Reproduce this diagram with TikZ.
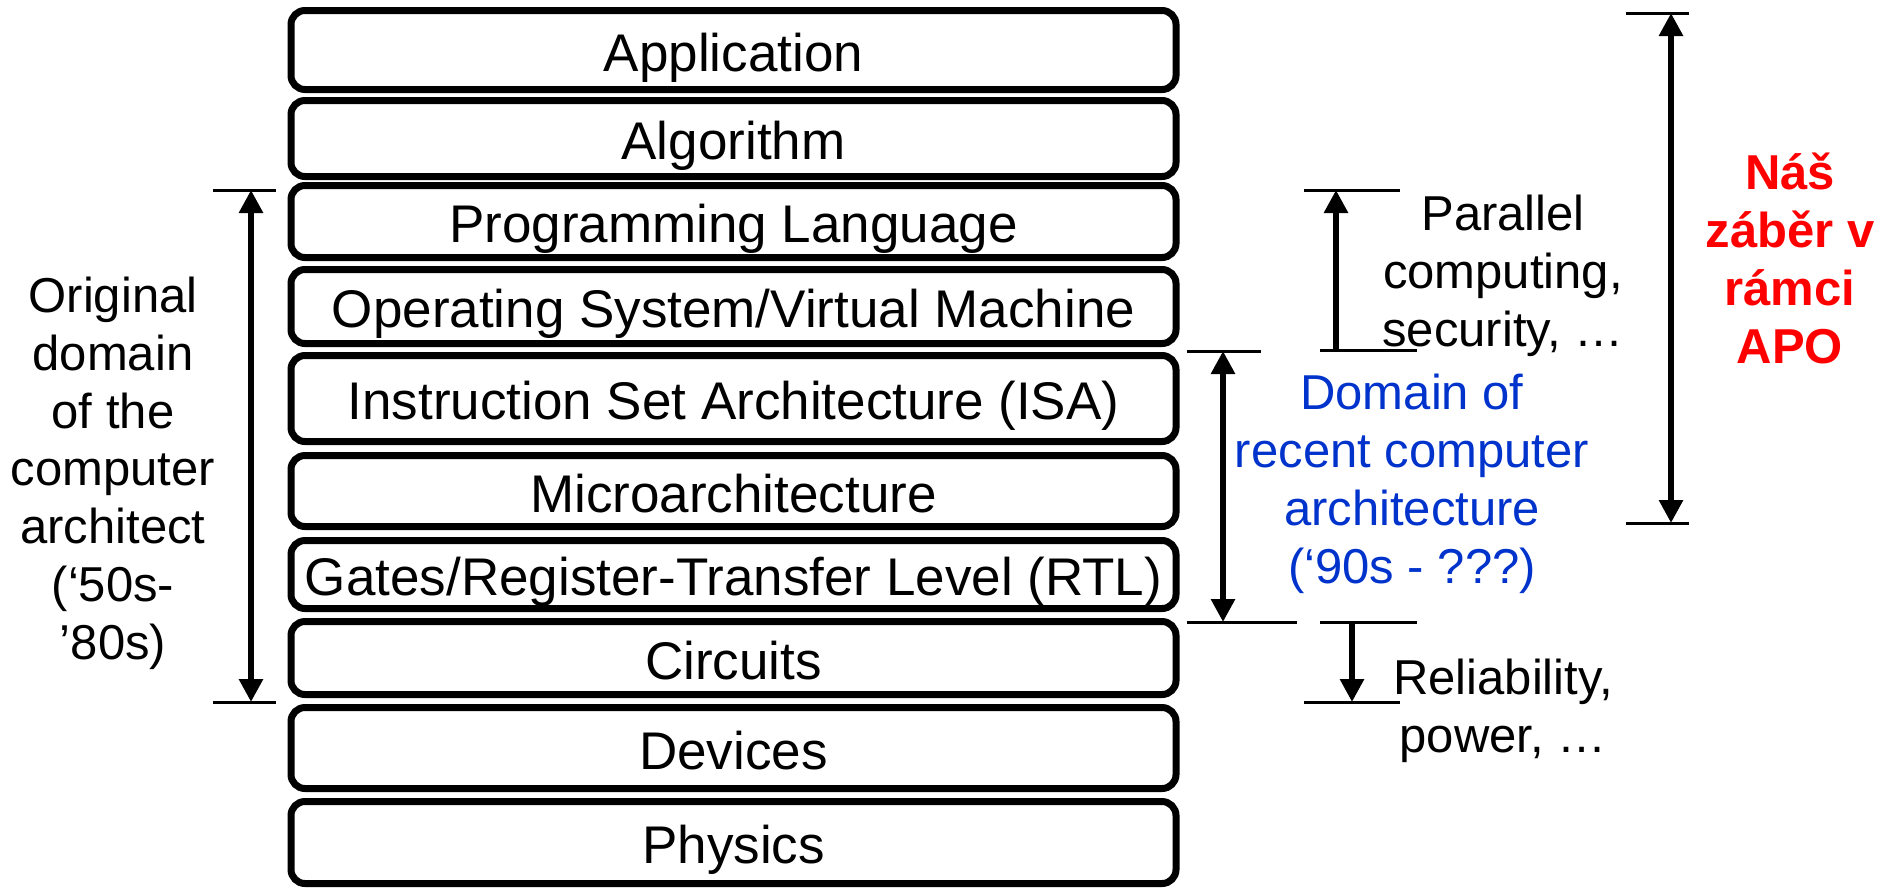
\documentclass[tikz,border=0pt]{standalone}
\usepackage{fontspec}
\setmainfont{Liberation Sans}
\usetikzlibrary{arrows.meta,calc}
\definecolor{domainblue}{RGB}{0,51,204}
\definecolor{scopered}{RGB}{255,0,0}
\begin{document}
\begin{tikzpicture}[x=0.5pt,y=-0.5pt,
  layer/.style={draw, line width=3.5pt, rounded corners=7pt,
    minimum width=442.5pt, inner sep=0pt,
    font=\fontsize{26.5}{31}\selectfont, text height=21pt, text depth=0pt},
  side/.style={align=center, anchor=base, inner sep=0pt,
    font=\fontsize{24.5}{28.85}\selectfont},
  tickline/.style={line width=1.5pt},
  headtip/.tip={Triangle[length=11.5pt,width=11.5pt]},
  span/.style={line width=3.4pt, headtip-headtip},
  upspan/.style={line width=3.4pt, -headtip},
]
\useasboundingbox (0,0) rectangle (1888,891);

% the stack of abstraction layers
\node[layer, minimum height=39.5pt] (app)   at (733.5,50)    {Application};
\node[layer, minimum height=38pt]   (alg)   at (733.5,138.5) {Algorithm};
\node[layer, minimum height=36pt]   (plang) at (733.5,221.5) {Programming Language};
\node[layer, minimum height=37pt]   (os)    at (733.5,306.5) {Operating System/Virtual Machine};
\node[layer, minimum height=43pt]   (isa)   at (733.5,398.5) {Instruction Set Architecture (ISA)};
\node[layer, minimum height=35.5pt] (uarch) at (733.5,491)   {Microarchitecture};
\node[layer, minimum height=34pt]   (rtl)   at (733.5,574.5) {Gates/Register-Transfer Level (RTL)};
\node[layer, minimum height=36.5pt] (circ)  at (733.5,658)   {Circuits};
\node[layer, minimum height=40.5pt] (dev)   at (733.5,748)   {Devices};
\node[layer, minimum height=41pt]   (phys)  at (733.5,842.5) {Physics};

% side labels (placed by the baseline of their last line)
\node[side] (orig) at (113,659)
  {Original\\domain\\of the\\computer\\architect\\(‘50s-\\’80s)};
\node[side] (par) at (1503,346) {Parallel\\computing,\\security, …};
\node[side, text=domainblue] (dom) at (1412,583)
  {Domain of\\recent computer\\architecture\\(‘90s - ???)};
\node[side] (rel) at (1503,752) {Reliability,\\power, …};
\node[side, text=scopered, font=\fontsize{24.5}{28.85}\selectfont\bfseries] (apo)
  at (1790,363) {Náš\\záběr v\\rámci\\APO};

% span end points
\coordinate (oT) at (251,190);  \coordinate (oB) at (251,702);
\coordinate (pT) at (1336,190); \coordinate (pB) at (1336,350);
\coordinate (dT) at (1223,351); \coordinate (dB) at (1223,622);
\coordinate (rT) at (1352,622); \coordinate (rB) at (1352,702);
\coordinate (aT) at (1671,13);  \coordinate (aB) at (1671,523);

% limit ticks
\draw[tickline] ($(oT)+(-38,0)$) -- ($(oT)+(25,0)$);
\draw[tickline] ($(oB)+(-38,0)$) -- ($(oB)+(25,0)$);
\draw[tickline] ($(pT)+(-32,0)$) -- ($(pT)+(64,0)$);
\draw[tickline] ($(pB)+(-16,0)$) -- ($(pB)+(81,0)$);
\draw[tickline] ($(dT)+(-36,0)$) -- ($(dT)+(38,0)$);
\draw[tickline] ($(dB)+(-36,0)$) -- ($(dB)+(74,0)$);
\draw[tickline] ($(rT)+(-32,0)$) -- ($(rT)+(65,0)$);
\draw[tickline] ($(rB)+(-48,0)$) -- ($(rB)+(48,0)$);
\draw[tickline] ($(aT)+(-45,0)$) -- ($(aT)+(18,0)$);
\draw[tickline] ($(aB)+(-45,0)$) -- ($(aB)+(18,0)$);

% spans
\draw[span] (oT) -- (oB);
\draw[upspan] (pB) -- (pT);
\draw[span] (dT) -- (dB);
\draw[upspan] (rT) -- (rB);
\draw[span] (aT) -- (aB);
\end{tikzpicture}
\end{document}
